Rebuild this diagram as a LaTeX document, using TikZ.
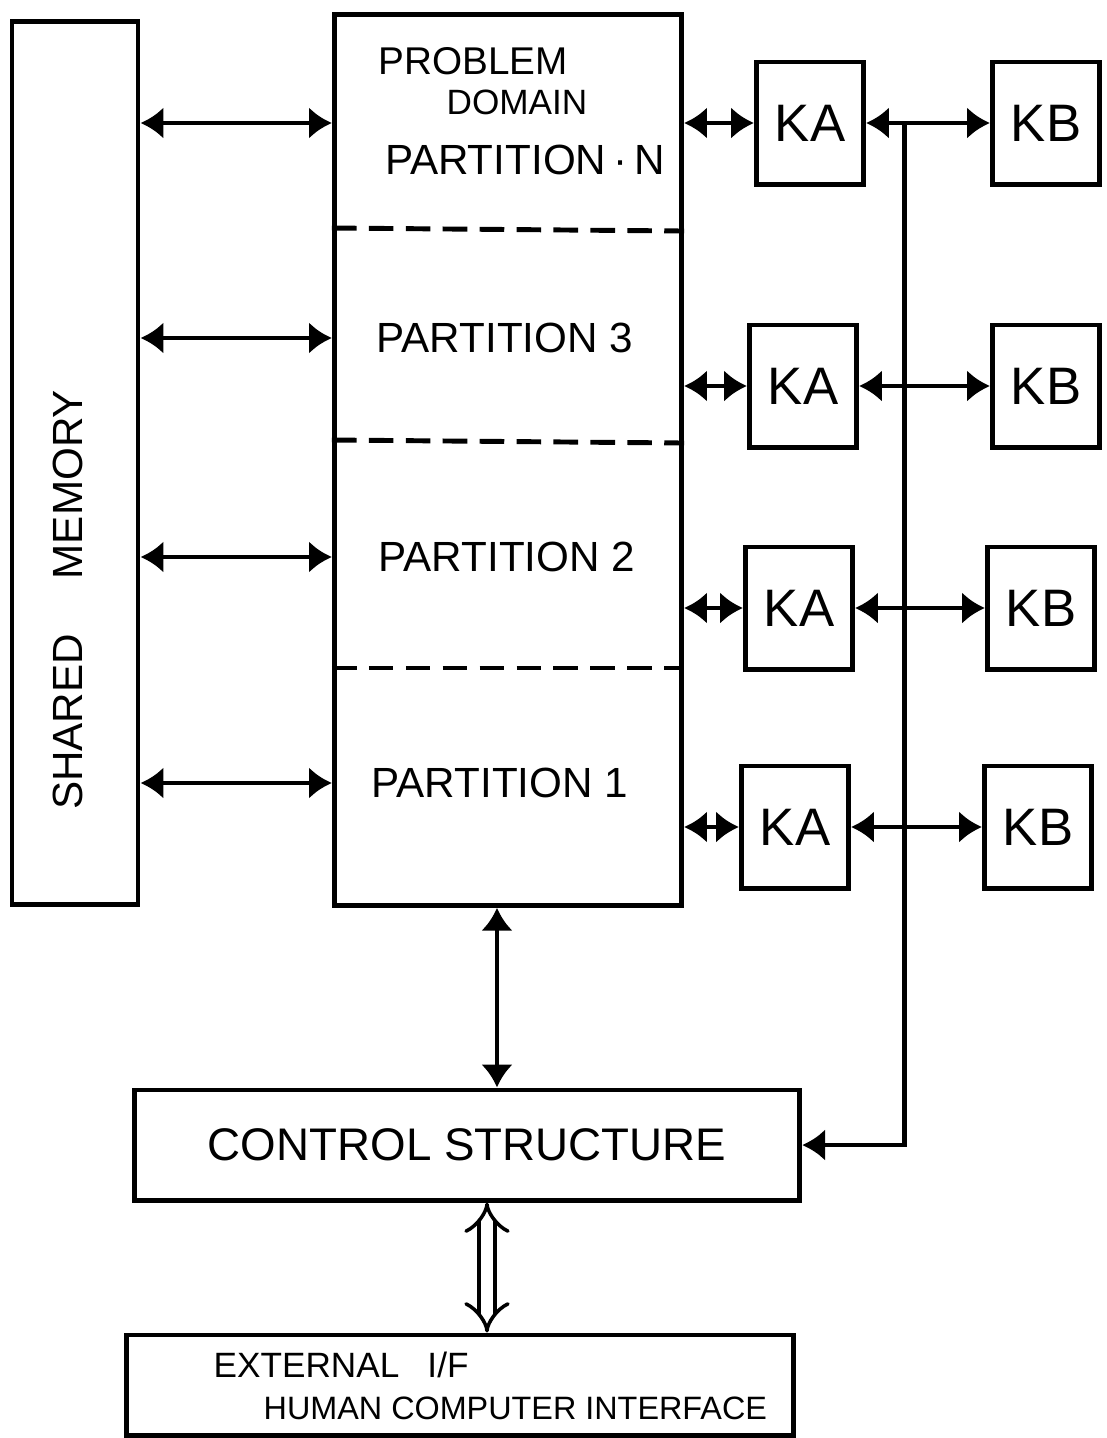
\documentclass[tikz,border=0pt]{standalone}
\usepackage{fontspec}
\setmainfont{Liberation Sans}
\usetikzlibrary{arrows.meta,calc}
\tikzstyle{block} = [draw=black, line width=1.4pt, inner sep=0pt, text centered, align=center]
\tikzstyle{kbox} = [block, minimum width=1.07cm, minimum height=1.22cm, font=\fontsize{15}{18}\selectfont]
\tikzstyle{lettering} = [inner sep=0pt, font=\fontsize{12}{14}\selectfont]
\tikzstyle{edge} = [black, line width=1.4pt, {Latex[length=6.5pt,width=9pt]}-{Latex[length=6.5pt,width=9pt]}]
\tikzstyle{feed} = [black, line width=1.4pt, -{Latex[length=6.5pt,width=9pt]}]
\tikzstyle{divider} = [black, line width=1.4pt, dash pattern=on 7pt off 3.5pt]
\tikzstyle{wide} = [black, line width=1pt, double, double distance=3.5pt, {Implies[]}-{Implies[]}]

\begin{document}
\begin{tikzpicture}[x=0.01cm, y=-0.01cm]
\useasboundingbox (0,0) rectangle (1107,1438);

% shared memory
\node[block, minimum width=1.26cm, minimum height=8.83cm] (sm) at (75,463) {};
\node[lettering, rotate=90] (smtext) at (68,600) {SHARED\hspace{1.3em}MEMORY};

% problem domain
\node[block, minimum width=3.47cm, minimum height=8.9cm] (pd) at (508,460) {};
\node[lettering, font=\fontsize{11}{13}\selectfont] (pdtop) at (473,61) {PROBLEM};
\node[lettering, font=\fontsize{10}{12}\selectfont] (pdmid) at (517,102) {DOMAIN};
\node[lettering] (pn) at (525,160) {PARTITION\,·\,N};
\node[lettering] (p3) at (505,338) {PARTITION 3};
\node[lettering] (p2) at (507,557) {PARTITION 2};
\node[lettering] (p1) at (500,783) {PARTITION 1};
\coordinate (rown) at (335,123);

\draw[divider] (pd.west |- 0,228) -- (pd.east |- 0,231);
\draw[divider] (pd.west |- 0,440) -- (pd.east |- 0,443);
\draw[divider] (pd.west |- 0,668) -- (pd.east |- 0,668);

\draw[edge] (sm.east |- rown) -- (pd.west |- rown);
\draw[edge] (sm.east |- p3) -- (pd.west |- p3);
\draw[edge] (sm.east |- p2) -- (pd.west |- p2);
\draw[edge] (sm.east |- p1) -- (pd.west |- p1);

% knowledge boxes
\node[kbox] (kan) at (810,123) {KA};
\node[kbox] (ka3) at (803,386) {KA};
\node[kbox] (ka2) at (799,608) {KA};
\node[kbox] (ka1) at (795,827) {KA};
\node[kbox] (kbn) at (1046,123) {KB};
\node[kbox] (kb3) at (1046,386) {KB};
\node[kbox] (kb2) at (1041,608) {KB};
\node[kbox] (kb1) at (1038,827) {KB};

\draw[edge] (pd.east |- kan) -- (kan);
\draw[edge] (pd.east |- ka3) -- (ka3);
\draw[edge] (pd.east |- ka2) -- (ka2);
\draw[edge] (pd.east |- ka1) -- (ka1);
\draw[edge] (kan) -- (kbn);
\draw[edge] (ka3) -- (kb3);
\draw[edge] (ka2) -- (kb2);
\draw[edge] (ka1) -- (kb1);

% control and interface
\node[block, minimum width=6.65cm, minimum height=1.1cm, font=\fontsize{13}{15}\selectfont] (cs) at (467,1145) {CONTROL STRUCTURE};
\node[block, minimum width=6.66cm, minimum height=1.0cm] (ext) at (460,1385) {};
\node[lettering, anchor=west, font=\fontsize{10}{12}\selectfont] (exttop) at (213,1365) {EXTERNAL\hspace{0.8em}I/F};
\node[lettering, anchor=west, font=\fontsize{9.2}{11}\selectfont] (extbot) at (263,1408) {HUMAN COMPUTER INTERFACE};

\coordinate (bus) at ($(kan)!0.4!(kbn)$);
\coordinate (pdout) at ($(pd.south)+(-11,0)$);
\coordinate (csout) at ($(cs.south)+(20,0)$);

\draw[feed] (bus) |- (cs.east);
\draw[edge] (pdout) -- (pdout |- cs.north);
\draw[wide] (csout) -- (csout |- ext.north);

\end{tikzpicture}
\end{document}
